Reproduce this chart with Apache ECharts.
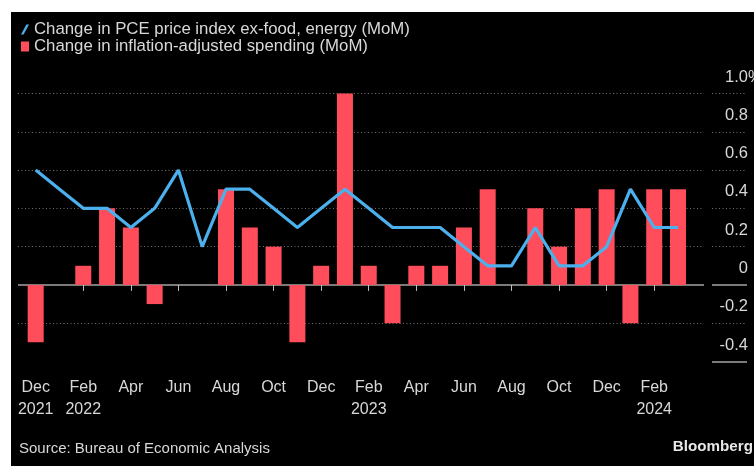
<!DOCTYPE html>
<html>
<head>
<meta charset="utf-8">
<script src="https://cdn.jsdelivr.net/npm/echarts@6/dist/echarts.min.js"></script>
<style>
  html, body { margin: 0; padding: 0; background: #ffffff; }
  #c { position: absolute; left: 11px; top: 12px; width: 743px; height: 454px; background: #000000; }
</style>
</head>
<body>
<div id="c"></div>
<script>
// ---- data ----
const categories = ['Dec 2021','Jan 2022','Feb 2022','Mar 2022','Apr 2022','May 2022','Jun 2022','Jul 2022',
  'Aug 2022','Sep 2022','Oct 2022','Nov 2022','Dec 2022','Jan 2023','Feb 2023','Mar 2023','Apr 2023',
  'May 2023','Jun 2023','Jul 2023','Aug 2023','Sep 2023','Oct 2023','Nov 2023','Dec 2023','Jan 2024',
  'Feb 2024','Mar 2024'];
const corePce = [0.6,0.5,0.4,0.4,0.3,0.4,0.6,0.2,0.5,0.5,0.4,0.3,0.4,0.5,0.4,0.3,0.3,0.3,0.2,0.1,0.1,0.3,0.1,0.1,0.2,0.5,0.3,0.3];
const realSpending = [-0.3,0,0.1,0.4,0.3,-0.1,0,0,0.5,0.3,0.2,-0.3,0.1,1.0,0.1,-0.2,0.1,0.1,0.3,0.5,0,0.4,0.2,0.4,0.5,-0.2,0.5,0.5];
const lineName = 'Change in PCE price index ex-food, energy (MoM)';
const barName = 'Change in inflation-adjusted spending (MoM)';
const sourceText = 'Source: Bureau of Economic Analysis';
const brandText = 'Bloomberg';
const yMin = -0.4, yMax = 1.0, yStep = 0.2;

// ---- style ----
const FONT = 'Liberation Sans';
const TXT = '#d8d8d8';
const RED = '#ff4d5b';
const BLUE = '#4cb0ec';
const DOT = '#707070';
const SOLID = '#7a7a7a';
const T = 'rgba(0,0,0,0)';

const chart = echarts.init(document.getElementById('c'), null, { renderer: 'canvas' });

const gTop = 81.5, gH = 268;

function labelFor(v, i) {
  const parts = categories[i].split(' ');
  const prev = i >= 2 ? categories[i - 2].split(' ')[1] : null;
  if (i === 0 || prev !== parts[1]) return parts[0] + '\n' + parts[1];
  return parts[0];
}

const option = {
  backgroundColor: 'transparent',
  animation: false,
  textStyle: { fontFamily: FONT },
  legend: {
    orient: 'vertical', left: 5, top: 4,
    itemWidth: 8, itemHeight: 10, itemGap: 0,
    selectedMode: false,
    textStyle: { color: TXT, fontSize: 16.8, fontFamily: FONT },
    data: [
      { name: lineName, icon: 'path://M0,10L2.6,10L8,0L5.4,0Z', itemStyle: { color: BLUE, borderWidth: 0 } },
      { name: barName, icon: 'rect', itemStyle: { color: RED, borderWidth: 0 } }
    ]
  },
  grid: [
    { left: 7, top: gTop, width: 686, height: gH },
    { left: 701, top: gTop, width: 35, height: gH },
    { left: 12.8, top: gTop, width: 666.1, height: gH }
  ],
  xAxis: [
    { gridIndex: 0, type: 'value', show: false, min: 0, max: 1 },
    { gridIndex: 1, type: 'value', show: false, min: 0, max: 1 },
    {
      gridIndex: 2, type: 'category', data: categories, boundaryGap: true,
      axisLine: { show: false },
      axisTick: { show: true, interval: 1, alignWithLabel: true, length: 6, lineStyle: { color: '#bdbdbd', width: 1 } },
      axisLabel: { interval: 1, color: TXT, fontSize: 16, fontFamily: FONT, lineHeight: 22, margin: 15, formatter: labelFor },
      splitLine: { show: false }
    }
  ],
  yAxis: [
    { gridIndex: 0, type: 'value', min: yMin, max: yMax, interval: yStep,
      axisLine: { show: false }, axisTick: { show: false }, axisLabel: { show: false },
      splitLine: { show: true, lineStyle: { color: [T, DOT, T, DOT, DOT, DOT, DOT, DOT], type: [1, 2.5], width: 1 } } },
    { gridIndex: 0, type: 'value', min: yMin, max: yMax, interval: 0.4,
      axisLine: { show: false }, axisTick: { show: false }, axisLabel: { show: false },
      splitLine: { show: true, lineStyle: { color: [T, SOLID, T, T, T], type: 'solid', width: 2 } } },
    { gridIndex: 1, type: 'value', position: 'right', min: yMin, max: yMax, interval: yStep,
      axisLine: { show: false }, axisTick: { show: false },
      axisLabel: { inside: true, margin: -1, color: TXT, fontSize: 16.5, fontFamily: FONT,
        verticalAlign: 'bottom', padding: [0, 0, 8, 0],
        formatter: v => (Math.abs(v) < 1e-9 ? '0' : v.toFixed(1)) },
      splitLine: { show: true, lineStyle: { color: [T, DOT, T, DOT, DOT, DOT, DOT, DOT], type: [1, 2.5], width: 1 } } },
    { gridIndex: 1, type: 'value', min: yMin, max: yMax, interval: 0.4,
      axisLine: { show: false }, axisTick: { show: false }, axisLabel: { show: false },
      splitLine: { show: true, lineStyle: { color: [SOLID, SOLID, T, T, T], type: 'solid', width: 2 } } },
    { gridIndex: 2, type: 'value', min: yMin, max: yMax, interval: yStep, show: false,
      splitLine: { show: false } }
  ],
  series: [
    { name: barName, type: 'bar', xAxisIndex: 2, yAxisIndex: 4, data: realSpending,
      barWidth: 16, itemStyle: { color: RED }, silent: true },
    { name: lineName, type: 'line', xAxisIndex: 2, yAxisIndex: 4, data: corePce,
      symbol: 'none', lineStyle: { color: BLUE, width: 3.2 }, itemStyle: { color: BLUE }, silent: true, z: 5 }
  ],
  graphic: [
    { type: 'text', left: 8, top: 429, style: { text: sourceText, fill: TXT, font: '15px "' + FONT + '"' } },
    { type: 'text', right: 1, top: 427, style: { text: brandText, fill: '#e8e8e8', font: 'bold 15.2px "' + FONT + '"' } },
    { type: 'text', x: 737, y: 65, style: { text: '%', fill: TXT, font: '16.5px "' + FONT + '"', textVerticalAlign: 'middle', textAlign: 'left' } }
  ]
};
chart.setOption(option);
</script>
</body>
</html>
